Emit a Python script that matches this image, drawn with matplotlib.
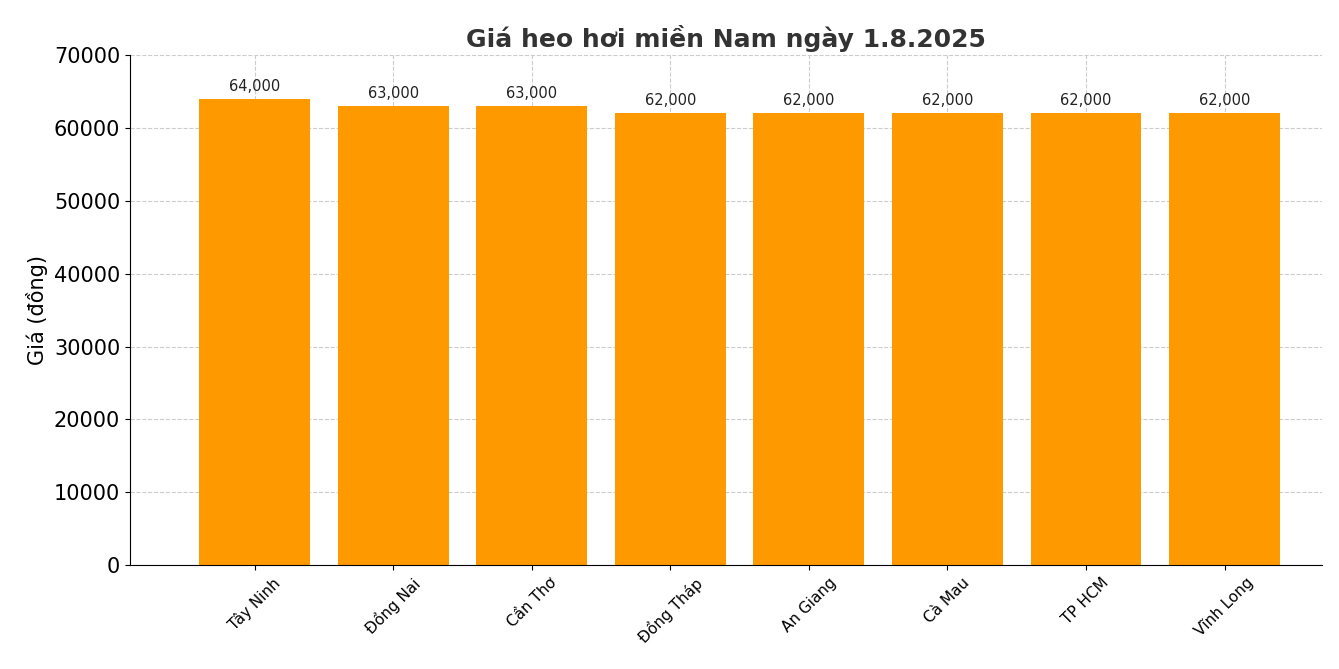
import matplotlib
matplotlib.use("Agg")
import matplotlib.pyplot as plt

provinces = ["Tây Ninh", "Đồng Nai", "Cần Thơ", "Đồng Tháp", "An Giang", "Cà Mau", "TP HCM", "Vĩnh Long"]
prices = [64000, 63000, 63000, 62000, 62000, 62000, 62000, 62000]

fig = plt.figure(figsize=(13.39, 6.69), dpi=100)
ax = fig.add_axes([0.097, 0.155, 0.89, 0.763])
bars = ax.bar(provinces, prices, color="#FF9900", width=0.8, zorder=2)
for b, v in zip(bars, prices):
    ax.text(b.get_x() + b.get_width() / 2, v + 700, f"{v:,}",
            ha="center", va="bottom", fontsize=10.5, color="#222222")
ax.set_ylim(0, 70000)
ax.set_yticks(range(0, 70001, 10000))
ax.tick_params(axis="y", labelsize=15)
ax.tick_params(axis="x", labelsize=11, labelrotation=45)
ax.set_ylabel("Giá (đồng)", fontsize=15)
ax.set_title("Giá heo hơi miền Nam ngày 1.8.2025", fontsize=18, fontweight="bold", color="#333333")
ax.grid(True, linestyle="--", color="#cccccc", linewidth=0.8, zorder=0)
ax.spines["top"].set_visible(False)
ax.spines["right"].set_visible(False)
ax.set_xlim(-0.9, 7.7)
fig.savefig("out.png", dpi=100)
